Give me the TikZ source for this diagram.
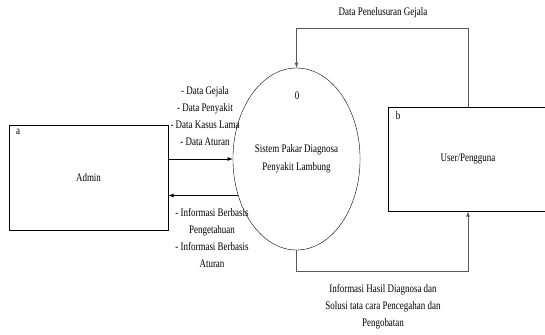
\documentclass[tikz,border=0pt]{standalone}
\usepackage{fontspec}
\setmainfont[FakeStretch=0.78]{Liberation Serif}
\usetikzlibrary{shapes.geometric}

\tikzset{
  entity/.style={draw, thick, rectangle, minimum width=159pt, minimum height=105pt, font=\fontsize{11.5}{12}\selectfont},
  process/.style={draw, ellipse, minimum width=115pt, minimum height=182pt, align=center, font=\fontsize{11.5}{18}\selectfont},
  flow/.style={-latex, thick},
  userflow/.style={-latex, thick, black!65},
  lbl/.style={align=center, font=\fontsize{11.5}{17}\selectfont},
  tag/.style={font=\fontsize{11.5}{12}\selectfont, inner sep=0pt}
}

\begin{document}
\begin{tikzpicture}[x=1pt, y=-1pt]
                \clip (0,0) rectangle (545,334);

                % Entities
                \node[entity] (admin) at (88.5,177.5) {Admin};
                \node[entity, minimum height=104pt, minimum width=160pt] (user) at (468,159) {User/Pengguna};
                \node[tag] (taga) at (18,132) {a};
                \node[tag] (tagb) at (398,116) {b};

                % Process
                \node[process] (sys) at (296.5,159) {Sistem Pakar Diagnosa\\Penyakit Lambung};
                \node[tag] (num) at (297,96) {0};

                % Admin <-> Sistem
                \draw[flow] (admin.east |- sys.west) -- (sys.west);
                \draw[flow] (sys.212.5) -- (admin.east |- sys.212.5);
                \node[lbl] (datain) at (205,116.5) {- Data Gejala\\- Data Penyakit\\- Data Kasus Lama\\- Data Aturan};
                \node[lbl] (infoout) at (212,238.5) {- Informasi Berbasis\\Pengetahuan\\- Informasi Berbasis\\Aturan};

                % User <-> Sistem
                \coordinate (topturn) at (468,28);
                \coordinate (botturn) at (468,271);
                \draw[userflow] (user.north) -- (topturn) -| (sys.north);
                \draw[userflow] (sys.south) |- (botturn) -- (user.south);
                \node[lbl] (lusur) at (383,13) {Data Penelusuran Gejala};
                \node[lbl] (hasil) at (383,307) {Informasi Hasil Diagnosa dan\\Solusi tata cara Pencegahan dan\\Pengobatan};
            \end{tikzpicture}
\end{document}
